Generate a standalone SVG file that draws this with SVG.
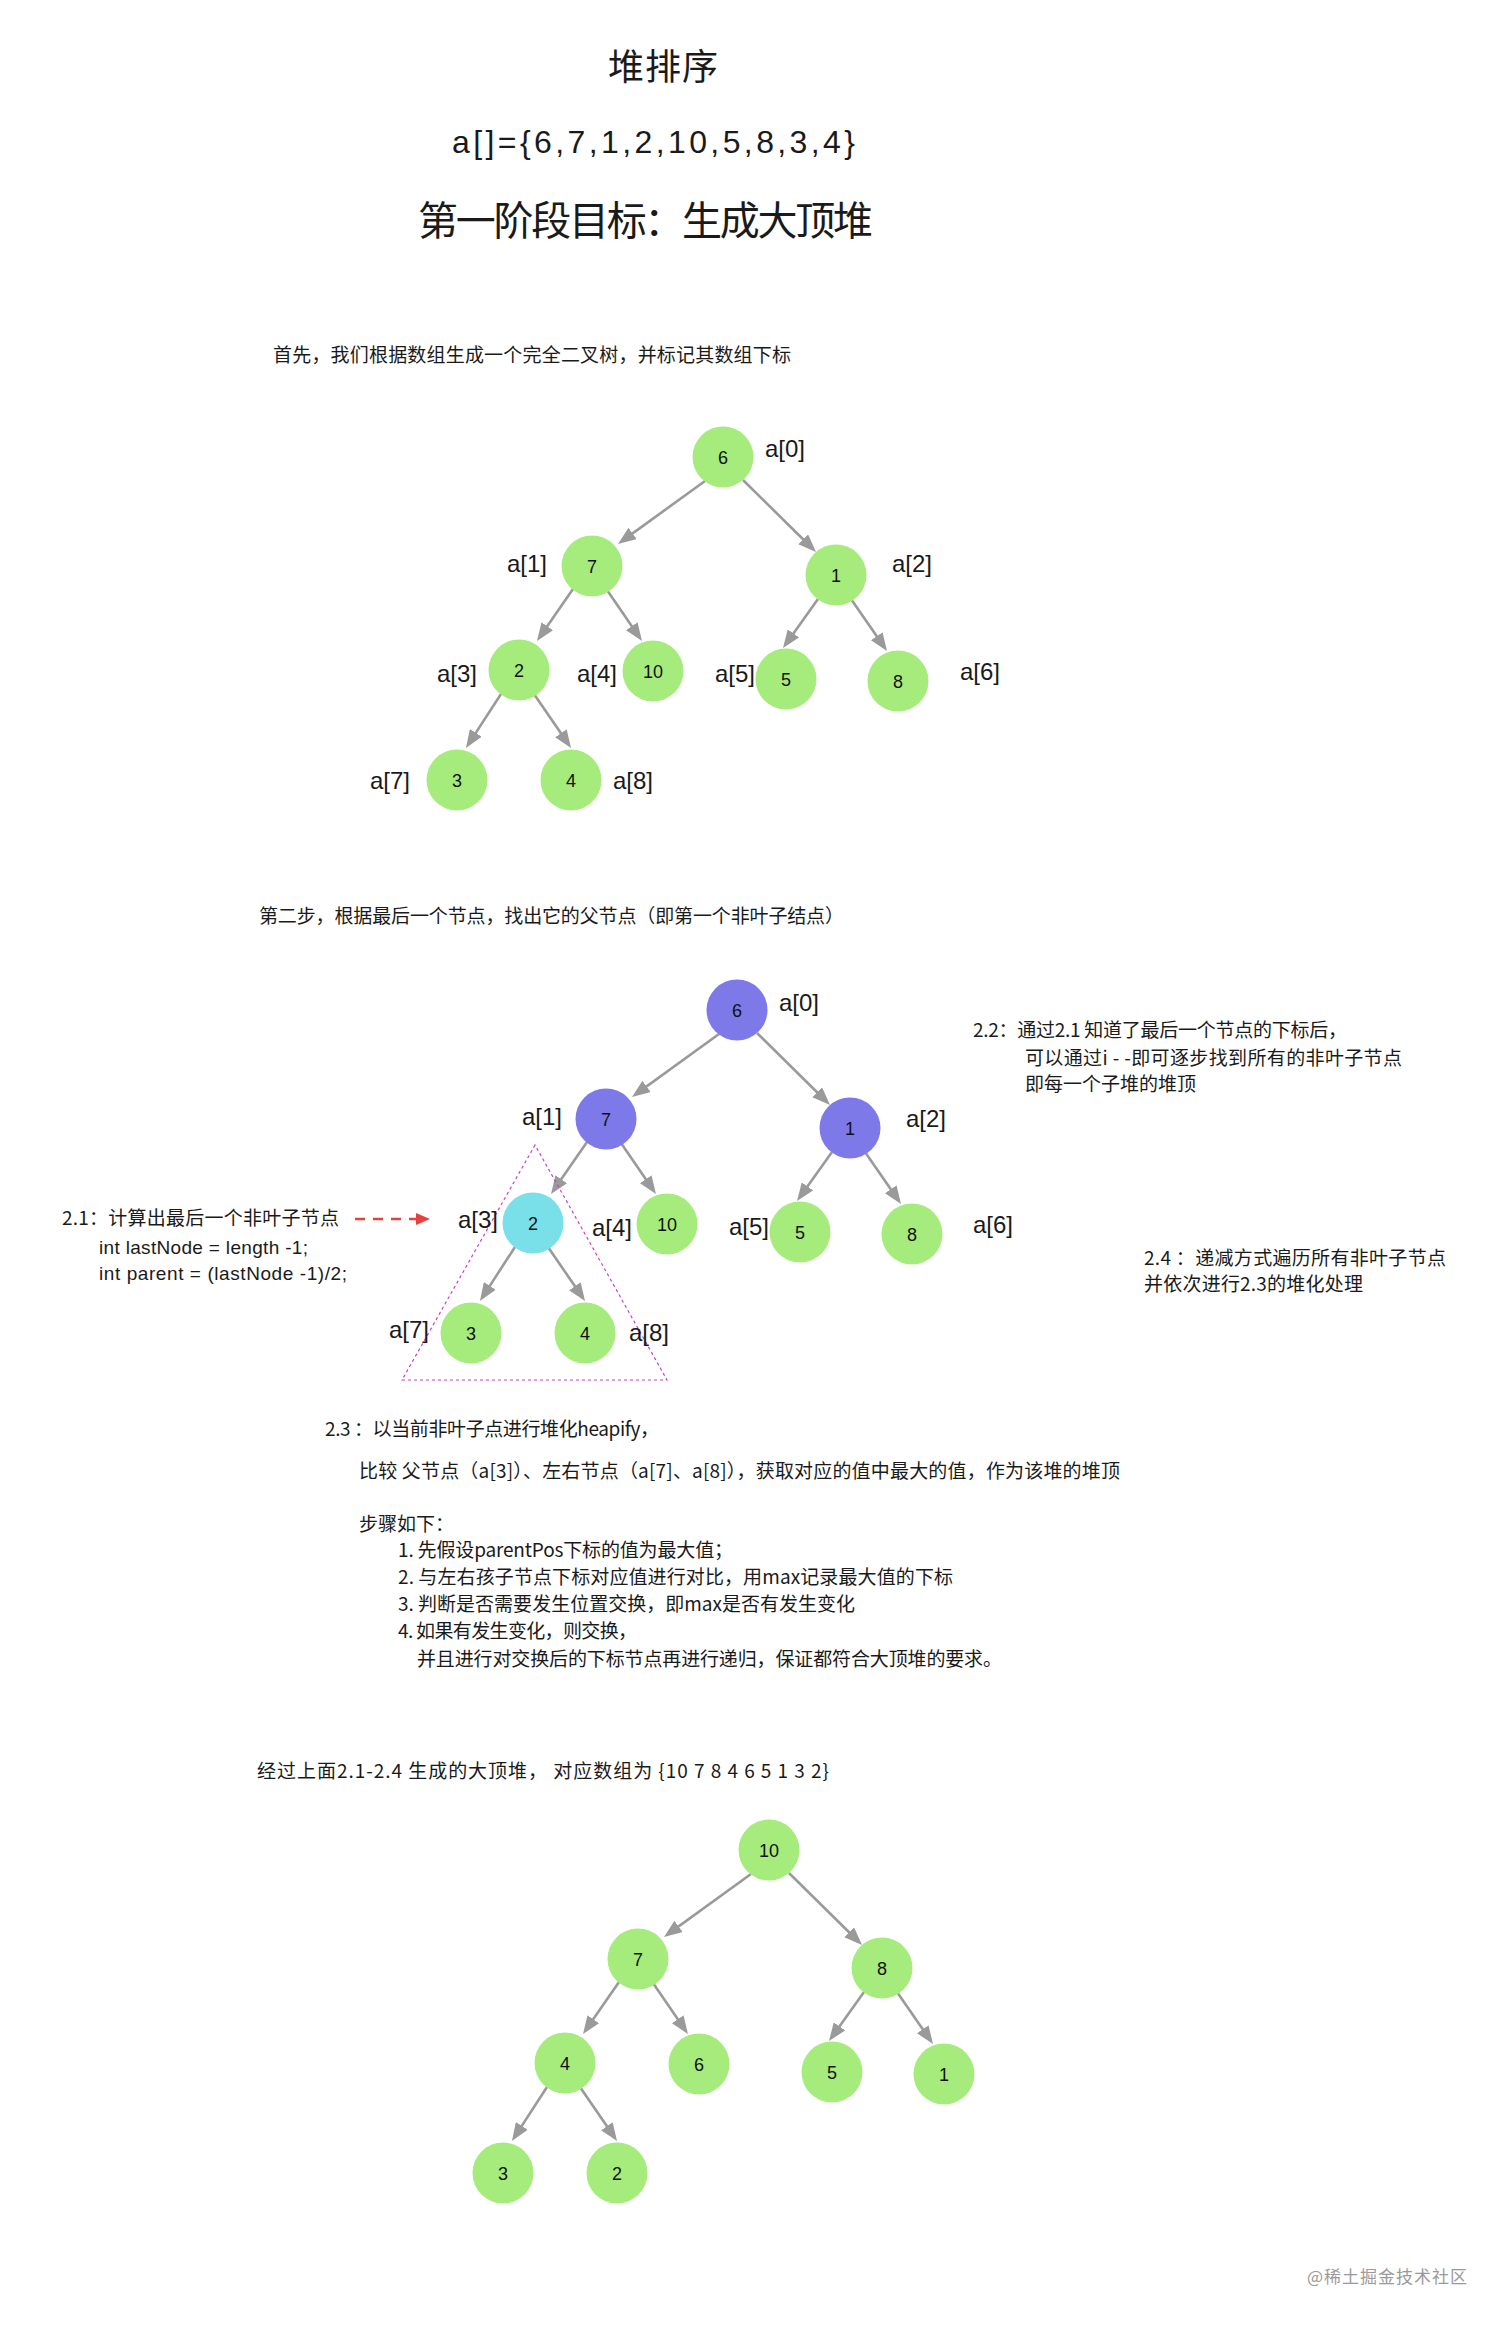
<svg xmlns="http://www.w3.org/2000/svg" width="1512" height="2329" viewBox="0 0 1512 2329">
<style>
.cjk{font-family:"Noto Sans CJK SC","Liberation Sans",sans-serif;fill:#1a1a1a}
.lat{font-family:"Liberation Sans","Noto Sans CJK SC",sans-serif;fill:#1a1a1a}
.body{font-size:19px}
.lbl{font-family:"Liberation Sans",sans-serif;font-size:24px;fill:#1a1a1a}
.num{font-family:"Liberation Sans",sans-serif;font-size:18px;fill:#111;text-anchor:middle}
.g{fill:#a6ec7c}
.p{fill:#7d79e9}
.c{fill:#79e0ea}
.edge{stroke:#9a9a9a;stroke-width:2.6;fill:none}
</style>
<defs>
<marker id="ah" markerUnits="userSpaceOnUse" markerWidth="18" markerHeight="14" refX="8" refY="7" orient="auto"><path d="M0,0 L18,7 L0,14 Z" fill="#9a9a9a"/></marker>
<marker id="ahr" markerUnits="userSpaceOnUse" markerWidth="14" markerHeight="12" refX="2" refY="6" orient="auto"><path d="M0,0 L14,6 L0,12 Z" fill="#e8403f"/></marker>
</defs>
<rect width="1512" height="2329" fill="#ffffff"/>

<g id="titles">
<text class="cjk" x="663" y="80" font-size="36" text-anchor="middle" textLength="110">堆排序</text>
<text class="lat" x="452" y="153" font-size="32" textLength="403">a[]={6,7,1,2,10,5,8,3,4}</text>
<text class="cjk" x="418" y="235" font-size="40" textLength="455">第一阶段目标：生成大顶堆</text>
</g>

<g id="texts">
<text class="cjk body" x="273" y="362" textLength="518">首先，我们根据数组生成一个完全二叉树，并标记其数组下标</text>
<text class="cjk body" x="259" y="923" textLength="585">第二步，根据最后一个节点，找出它的父节点（即第一个非叶子结点）</text>
<text class="cjk body" x="62" y="1225" textLength="277">2.1：计算出最后一个非叶子节点</text>
<text class="lat" x="99" y="1254" font-size="19" textLength="209">int lastNode = length -1;</text>
<text class="lat" x="99" y="1280" font-size="19" textLength="248">int parent = (lastNode -1)/2;</text>
<text class="cjk body" x="973" y="1037" textLength="374">2.2：通过2.1 知道了最后一个节点的下标后，</text>
<text class="cjk body" x="1025" y="1065" textLength="377">可以通过i - -即可逐步找到所有的非叶子节点</text>
<text class="cjk body" x="1025" y="1091" textLength="171">即每一个子堆的堆顶</text>
<text class="cjk body" x="1144" y="1265" textLength="302">2.4 ：递减方式遍历所有非叶子节点</text>
<text class="cjk body" x="1144" y="1291" textLength="219">并依次进行2.3的堆化处理</text>
<text class="cjk body" x="325" y="1436" textLength="334">2.3 ：以当前非叶子点进行堆化heapify，</text>
<text class="cjk body" x="359" y="1478" textLength="761">比较 父节点（a[3]）、左右节点（a[7]、a[8]），获取对应的值中最大的值，作为该堆的堆顶</text>
<text class="cjk body" x="359" y="1531">步骤如下：</text>
<text class="cjk body" x="398" y="1557" textLength="335">1. 先假设parentPos下标的值为最大值；</text>
<text class="cjk body" x="398" y="1584" textLength="555">2. 与左右孩子节点下标对应值进行对比，用max记录最大值的下标</text>
<text class="cjk body" x="398" y="1611" textLength="457">3. 判断是否需要发生位置交换，即max是否有发生变化</text>
<text class="cjk body" x="398" y="1638" textLength="239">4. 如果有发生变化，则交换，</text>
<text class="cjk body" x="417" y="1666" textLength="585">并且进行对交换后的下标节点再进行递归，保证都符合大顶堆的要求。</text>
<text class="cjk body" x="257" y="1778" textLength="572">经过上面2.1-2.4 生成的大顶堆， 对应数组为 {10 7 8 4 6 5 1 3 2}</text>
<text x="1307" y="2283" font-family="Noto Sans CJK SC, sans-serif" font-size="17" fill="#9a9a9a" textLength="160">@稀土掘金技术社区</text>
</g>

<g id="connectors">
<line class="edge" x1="705" y1="481" x2="626.1" y2="538.1" marker-end="url(#ah)"/>
<line class="edge" x1="743" y1="480" x2="808.9" y2="545" marker-end="url(#ah)"/>
<line class="edge" x1="573" y1="589" x2="542.7" y2="632.8" marker-end="url(#ah)"/>
<line class="edge" x1="607" y1="590" x2="636.3" y2="632.8" marker-end="url(#ah)"/>
<line class="edge" x1="818" y1="599" x2="788.8" y2="639.9" marker-end="url(#ah)"/>
<line class="edge" x1="851" y1="599" x2="881.3" y2="642.8" marker-end="url(#ah)"/>
<line class="edge" x1="501" y1="694" x2="471.4" y2="739.6" marker-end="url(#ah)"/>
<line class="edge" x1="534" y1="694" x2="565.4" y2="739.8" marker-end="url(#ah)"/>

<line class="edge" x1="719" y1="1034" x2="640.1" y2="1091.1" marker-end="url(#ah)"/>
<line class="edge" x1="757" y1="1033" x2="822.9" y2="1098" marker-end="url(#ah)"/>
<line class="edge" x1="587" y1="1142" x2="556.7" y2="1185.8" marker-end="url(#ah)"/>
<line class="edge" x1="621" y1="1143" x2="650.3" y2="1185.8" marker-end="url(#ah)"/>
<line class="edge" x1="832" y1="1152" x2="802.8" y2="1192.9" marker-end="url(#ah)"/>
<line class="edge" x1="865" y1="1152" x2="895.3" y2="1195.8" marker-end="url(#ah)"/>
<line class="edge" x1="515" y1="1247" x2="485.4" y2="1292.6" marker-end="url(#ah)"/>
<line class="edge" x1="548" y1="1247" x2="579.4" y2="1292.8" marker-end="url(#ah)"/>

<line class="edge" x1="751" y1="1874" x2="672.1" y2="1931.1" marker-end="url(#ah)"/>
<line class="edge" x1="789" y1="1873" x2="854.9" y2="1938" marker-end="url(#ah)"/>
<line class="edge" x1="619" y1="1982" x2="588.7" y2="2025.8" marker-end="url(#ah)"/>
<line class="edge" x1="653" y1="1983" x2="682.3" y2="2025.8" marker-end="url(#ah)"/>
<line class="edge" x1="864" y1="1992" x2="834.8" y2="2032.9" marker-end="url(#ah)"/>
<line class="edge" x1="897" y1="1992" x2="927.3" y2="2035.8" marker-end="url(#ah)"/>
<line class="edge" x1="547" y1="2087" x2="517.4" y2="2132.6" marker-end="url(#ah)"/>
<line class="edge" x1="580" y1="2087" x2="611.4" y2="2132.8" marker-end="url(#ah)"/>

<line x1="355" y1="1219" x2="418" y2="1219" stroke="#e8403f" stroke-width="2.4" stroke-dasharray="10 8" marker-end="url(#ahr)"/>
<polygon points="535,1145 402,1380 667,1380" fill="none" stroke="#cc3bd0" stroke-width="1.2" stroke-dasharray="3 3"/>
</g>

<g id="tree1">
<g id="t1-n0"><circle class="g" cx="723" cy="457" r="30.5"/><text class="num" x="723" y="463.5">6</text></g>
<g id="t1-n1"><circle class="g" cx="592" cy="566" r="30.5"/><text class="num" x="592" y="572.5">7</text></g>
<g id="t1-n2"><circle class="g" cx="836" cy="575" r="30.5"/><text class="num" x="836" y="581.5">1</text></g>
<g id="t1-n3"><circle class="g" cx="519" cy="670" r="30.5"/><text class="num" x="519" y="676.5">2</text></g>
<g id="t1-n4"><circle class="g" cx="653" cy="671" r="30.5"/><text class="num" x="653" y="677.5">10</text></g>
<g id="t1-n5"><circle class="g" cx="786" cy="679" r="30.5"/><text class="num" x="786" y="685.5">5</text></g>
<g id="t1-n6"><circle class="g" cx="898" cy="681" r="30.5"/><text class="num" x="898" y="687.5">8</text></g>
<g id="t1-n7"><circle class="g" cx="457" cy="780" r="30.5"/><text class="num" x="457" y="786.5">3</text></g>
<g id="t1-n8"><circle class="g" cx="571" cy="780" r="30.5"/><text class="num" x="571" y="786.5">4</text></g>
<g id="t1-labels">
<text class="lbl" x="765" y="457">a[0]</text>
<text class="lbl" x="507" y="572">a[1]</text>
<text class="lbl" x="892" y="572">a[2]</text>
<text class="lbl" x="437" y="682">a[3]</text>
<text class="lbl" x="577" y="682">a[4]</text>
<text class="lbl" x="715" y="682">a[5]</text>
<text class="lbl" x="960" y="680">a[6]</text>
<text class="lbl" x="370" y="789">a[7]</text>
<text class="lbl" x="613" y="789">a[8]</text>
</g>
</g>

<g id="tree2">
<g id="t2-n0"><circle class="p" cx="737" cy="1010" r="30.5"/><text class="num" x="737" y="1016.5">6</text></g>
<g id="t2-n1"><circle class="p" cx="606" cy="1119" r="30.5"/><text class="num" x="606" y="1125.5">7</text></g>
<g id="t2-n2"><circle class="p" cx="850" cy="1128" r="30.5"/><text class="num" x="850" y="1134.5">1</text></g>
<g id="t2-n3"><circle class="c" cx="533" cy="1223" r="30.5"/><text class="num" x="533" y="1229.5">2</text></g>
<g id="t2-n4"><circle class="g" cx="667" cy="1224" r="30.5"/><text class="num" x="667" y="1230.5">10</text></g>
<g id="t2-n5"><circle class="g" cx="800" cy="1232" r="30.5"/><text class="num" x="800" y="1238.5">5</text></g>
<g id="t2-n6"><circle class="g" cx="912" cy="1234" r="30.5"/><text class="num" x="912" y="1240.5">8</text></g>
<g id="t2-n7"><circle class="g" cx="471" cy="1333" r="30.5"/><text class="num" x="471" y="1339.5">3</text></g>
<g id="t2-n8"><circle class="g" cx="585" cy="1333" r="30.5"/><text class="num" x="585" y="1339.5">4</text></g>
<g id="t2-labels">
<text class="lbl" x="779" y="1011">a[0]</text>
<text class="lbl" x="522" y="1125">a[1]</text>
<text class="lbl" x="906" y="1127">a[2]</text>
<text class="lbl" x="458" y="1228">a[3]</text>
<text class="lbl" x="592" y="1236">a[4]</text>
<text class="lbl" x="729" y="1235">a[5]</text>
<text class="lbl" x="973" y="1233">a[6]</text>
<text class="lbl" x="389" y="1338">a[7]</text>
<text class="lbl" x="629" y="1341">a[8]</text>
</g>
</g>

<g id="tree3">
<g id="t3-n0"><circle class="g" cx="769" cy="1850" r="30.5"/><text class="num" x="769" y="1856.5">10</text></g>
<g id="t3-n1"><circle class="g" cx="638" cy="1959" r="30.5"/><text class="num" x="638" y="1965.5">7</text></g>
<g id="t3-n2"><circle class="g" cx="882" cy="1968" r="30.5"/><text class="num" x="882" y="1974.5">8</text></g>
<g id="t3-n3"><circle class="g" cx="565" cy="2063" r="30.5"/><text class="num" x="565" y="2069.5">4</text></g>
<g id="t3-n4"><circle class="g" cx="699" cy="2064" r="30.5"/><text class="num" x="699" y="2070.5">6</text></g>
<g id="t3-n5"><circle class="g" cx="832" cy="2072" r="30.5"/><text class="num" x="832" y="2078.5">5</text></g>
<g id="t3-n6"><circle class="g" cx="944" cy="2074" r="30.5"/><text class="num" x="944" y="2080.5">1</text></g>
<g id="t3-n7"><circle class="g" cx="503" cy="2173" r="30.5"/><text class="num" x="503" y="2179.5">3</text></g>
<g id="t3-n8"><circle class="g" cx="617" cy="2173" r="30.5"/><text class="num" x="617" y="2179.5">2</text></g>
</g>
</svg>
